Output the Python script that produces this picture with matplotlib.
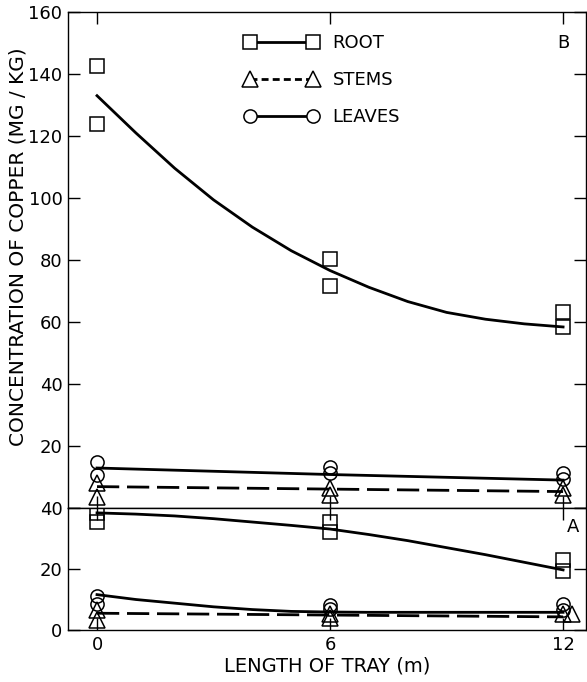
import matplotlib.pyplot as plt
from matplotlib.lines import Line2D

plt.rcParams['font.family'] = ['DejaVu Sans']

# tray length (m)
tray = [0, 6, 12]
curve_x = [0, 1, 2, 3, 4, 5, 6, 7, 8, 9, 10, 11, 12]

# panel B (upper) - measured points
root_b_x = [0, 0, 6, 6, 12, 12]
root_b_y = [142.6, 123.9, 80.3, 71.6, 63.2, 58.4]
stems_b_x = [0, 0, 6, 6, 12, 12]
stems_b_y = [8.1, 3.6, 6.6, 4.2, 6.4, 4.2]
leaves_b_x = [0, 0, 6, 6, 12, 12]
leaves_b_y = [14.9, 10.6, 13.3, 11.2, 11.2, 9.3]

# panel B fitted lines
root_b_fit = [133.0, 121.0, 109.6, 99.4, 90.6, 83.0, 76.6, 71.2, 66.6, 63.1, 60.9, 59.4, 58.4]
stems_b_fit = [6.9, 6.1, 5.3]
leaves_b_fit = [12.9, 10.8, 9.0]

# panel A (lower) - measured points
root_a_x = [0, 0, 6, 6, 12, 12]
root_a_y = [38.2, 35.5, 35.3, 32.0, 23.1, 19.4]
stems_a_x = [0, 0, 6, 6, 12, 12.22]
stems_a_y = [6.5, 3.2, 5.4, 3.8, 5.4, 5.4]
leaves_a_x = [0, 0, 6, 6, 12, 12]
leaves_a_y = [11.3, 8.6, 8.1, 7.0, 8.6, 6.5]

# panel A fitted lines
root_a_fit = [38.4, 38.0, 37.4, 36.5, 35.4, 34.3, 33.1, 31.3, 29.3, 27.0, 24.7, 22.2, 19.7]
stems_a_fit = [5.5, 4.9, 4.3]
leaves_a_fit = [11.6, 10.0, 8.8, 7.6, 6.7, 6.1, 5.9, 5.8, 5.8, 5.8, 5.8, 5.8, 5.8]

LW = 2.0
DASH = (8, 2.8)
SQ, TRI, CIR = 10, 12, 9.5
mk = dict(linestyle='none', mfc='none', mec='black', mew=1.1)

fig = plt.figure(figsize=(5.87, 6.82), dpi=100)
left, width = 68 / 587, 518 / 587
ax_b = fig.add_axes([left, 1 - 508 / 682, width, 496 / 682])
ax_a = fig.add_axes([left, 1 - 630 / 682, width, 122 / 682])

for ax in (ax_b, ax_a):
    ax.set_xlim(-0.747, 12.59)
    ax.set_xticks(tray)
    ax.tick_params(direction='in', top=True, right=True, length=8.5, width=1,
                   labelsize=13, pad=4)
    for s in ax.spines.values():
        s.set_linewidth(1.0)

# upper panel
ax_b.plot(curve_x, root_b_fit, color='black', lw=LW)
ax_b.plot(tray, stems_b_fit, color='black', lw=LW, dashes=DASH)
ax_b.plot(tray, leaves_b_fit, color='black', lw=LW)
ax_b.plot(root_b_x, root_b_y, marker='s', ms=SQ, **mk)
ax_b.plot(stems_b_x, stems_b_y, marker='^', ms=TRI, **mk)
ax_b.plot(leaves_b_x, leaves_b_y, marker='o', ms=CIR, **mk)
ax_b.set_ylim(0, 160)
ax_b.set_yticks(range(0, 161, 20))
ax_b.set_yticklabels([''] + [str(v) for v in range(20, 161, 20)])
ax_b.tick_params(axis='x', labelbottom=False)
ax_b.text(12, 150, 'B', fontsize=13, ha='center', va='center')

handles = [
    Line2D([], [], color='black', lw=LW, marker='s', ms=SQ, mfc='white', mec='black', mew=1.1),
    Line2D([], [], color='black', lw=LW, dashes=(2.5, 1.5), marker='^', ms=TRI, mfc='white', mec='black', mew=1.1),
    Line2D([], [], color='black', lw=LW, marker='o', ms=CIR, mfc='white', mec='black', mew=1.1),
]
ax_b.legend(handles, ['ROOT', 'STEMS', 'LEAVES'], numpoints=2, frameon=False,
            loc='upper left', bbox_to_anchor=(0.34, 0.955), borderaxespad=0,
            borderpad=0, handlelength=4.1, handletextpad=0.8, labelspacing=1.05,
            fontsize=13)

# lower panel
ax_a.plot(curve_x, root_a_fit, color='black', lw=LW)
ax_a.plot(tray, stems_a_fit, color='black', lw=LW, dashes=DASH)
ax_a.plot(curve_x, leaves_a_fit, color='black', lw=LW)
ax_a.plot(root_a_x, root_a_y, marker='s', ms=SQ, **mk)
ax_a.plot(stems_a_x, stems_a_y, marker='^', ms=TRI, **mk)
ax_a.plot(leaves_a_x, leaves_a_y, marker='o', ms=CIR, **mk)
ax_a.set_ylim(0, 40)
ax_a.set_yticks([0, 20, 40])
ax_a.text(12.25, 33.9, 'A', fontsize=13, ha='center', va='center')
ax_a.set_xlabel('LENGTH OF TRAY (m)', fontsize=14, labelpad=2)

fig.text(0.031, 0.639, 'CONCENTRATION OF COPPER (MG / KG)', rotation=90,
         fontsize=14.5, ha='center', va='center')

fig.savefig('out.png', dpi=100)
